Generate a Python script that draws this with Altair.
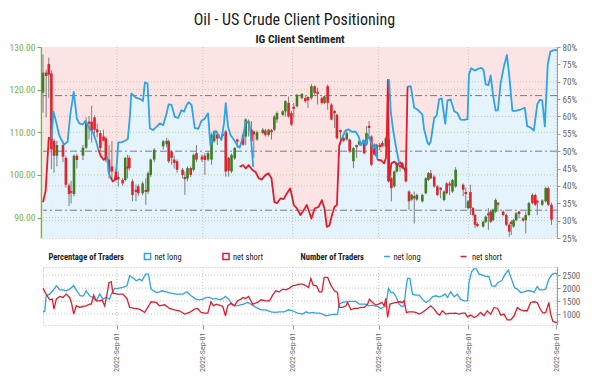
import altair as alt
import pandas as pd

FONT = "Liberation Sans Narrow, Roboto Condensed, Roboto, sans-serif"
PINK = "#fde4e4"
LIGHT_BLUE = "#e4f3fc"
BLUE = "#2ea3e6"
RED = "#e11d2b"
UP = "#3f7d20"
DOWN = "#e0232d"
WICK = "#7d7d7d"
GREEN_AXIS = "#79ad45"
GRAY_TXT = "#666666"

W, H_TOP, H_BOT = 514, 191, 58
X_DOMAIN = [0, 177.5]
PRICE_DOMAIN = [85.2, 130]
PCT_DOMAIN = [25, 80]
COUNT_DOMAIN = [580, 2810]

# ---- x axis ticks (day number within the period) ----
tick_days = [25.5, 55.2, 86.2, 115.9, 146.9, 177.2]
tick_labels = ["2022-Sep-01"] * 6

# ---- candles ----
candle_day = [0.0, 1.1, 2.0, 2.9, 3.8, 4.8, 6.9, 7.9, 9.0, 9.7,
              10.7, 11.7, 13.8, 14.9, 15.9, 16.8, 17.8, 18.7, 19.8, 20.9,
              21.7, 22.8, 23.8, 25.2, 26.0, 27.5, 28.4, 29.2, 29.8, 30.9,
              32.1, 32.9, 34.4, 35.5, 36.3, 37.2, 38.4, 41.5, 42.7, 43.4,
              44.4, 45.3, 46.3, 48.2, 49.0, 49.9, 51.0, 52.0, 53.0, 54.9,
              55.9, 57.0, 58.2, 59.1, 60.2, 62.0, 63.1, 64.1, 65.1, 66.2,
              67.1, 69.1, 70.0, 71.0, 72.0, 72.8, 73.9, 75.9, 76.8, 77.9,
              78.9, 79.9, 80.8, 82.8, 83.7, 84.8, 85.8, 86.6, 87.7, 89.4,
              90.6, 91.5, 92.7, 93.8, 94.8, 96.3, 97.2, 98.3, 99.6, 100.7,
              101.5, 102.7, 103.8, 104.9, 105.9, 107.2, 108.3, 109.2, 110.9, 111.7,
              112.6, 113.4, 114.4, 115.2, 116.3, 117.2, 118.4, 119.3, 120.3, 121.3,
              122.2, 123.3, 124.1, 125.3, 126.4, 127.3, 128.2, 129.1, 131.0, 132.2,
              133.1, 133.9, 135.1, 136.2, 137.3, 138.5, 139.4, 140.4, 141.4, 142.5,
              145.1, 146.0, 146.8, 147.6, 148.5, 149.2, 150.0, 152.0, 152.9, 153.8,
              154.6, 155.4, 156.3, 157.1, 158.9, 160.0, 161.0, 161.7, 162.5, 163.4,
              164.4, 165.8, 166.7, 167.8, 169.0, 170.0, 170.7, 172.4, 173.6, 174.5,
              175.6]
candle_open = [119.3, 124.0, 126.0, 123.8, 108.0, 104.5, 107.0, 104.0, 97.5, 96.2,
               95.5, 104.5, 104.5, 106.4, 112.5, 112.5, 113.5, 110.7, 109.8, 109.0,
               108.6, 103.6, 102.0, 100.8, 99.5, 98.8, 98.8, 102.0, 104.0, 98.5,
               96.5, 97.3, 95.7, 96.5, 96.1, 100.0, 103.6, 106.7, 107.2, 107.9,
               105.5, 103.6, 103.2, 101.2, 99.5, 99.2, 101.6, 101.2, 105.1, 104.3,
               104.5, 103.6, 103.6, 107.9, 109.5, 109.6, 110.2, 104.0, 100.8, 103.9,
               108.3, 109.4, 109.0, 112.5, 110.6, 110.2, 108.3, 109.8, 110.4, 109.4,
               110.5, 110.6, 113.0, 114.1, 114.9, 116.9, 114.5, 116.0, 116.1, 118.0,
               118.0, 118.3, 118.0, 120.8, 119.5, 118.0, 116.9, 120.8, 116.5, 115.0,
               114.1, 110.5, 108.7, 108.3, 108.3, 103.2, 107.0, 107.1, 107.9, 107.1,
               111.5, 109.0, 107.1, 104.3, 107.1, 107.5, 106.7, 108.3, 99.2, 97.3,
               100.8, 102.3, 102.8, 101.6, 96.1, 94.2, 95.0, 94.2, 93.8, 95.7,
               98.8, 100.4, 99.6, 97.3, 97.0, 94.1, 98.0, 98.0, 96.1, 97.3,
               97.7, 96.0, 92.2, 96.0, 92.2, 90.6, 88.5, 87.9, 89.0, 91.0,
               91.4, 89.4, 91.4, 93.5, 91.4, 90.6, 88.3, 89.0, 87.9, 89.4,
               91.4, 89.8, 89.4, 90.6, 95.3, 95.3, 94.0, 93.0, 93.8, 96.9,
               93.0]
candle_high = [128.2, 124.7, 127.5, 124.5, 108.5, 108.0, 107.5, 104.5, 98.0, 98.6,
               104.8, 105.0, 107.0, 113.5, 113.8, 116.2, 114.0, 112.0, 110.5, 110.6,
               109.0, 107.0, 107.9, 101.5, 100.8, 99.2, 104.2, 104.7, 104.5, 99.0,
               97.7, 97.8, 98.5, 99.2, 100.8, 103.8, 106.3, 108.2, 108.7, 108.3,
               105.8, 104.5, 103.6, 101.6, 100.8, 102.0, 102.0, 105.0, 107.0, 104.8,
               105.1, 105.5, 109.8, 110.5, 110.2, 110.0, 110.6, 104.2, 105.0, 106.5,
               108.5, 109.8, 113.3, 113.0, 112.6, 110.4, 110.4, 111.0, 110.8, 110.8,
               110.8, 114.0, 114.9, 115.2, 117.5, 118.4, 115.0, 116.9, 119.0, 119.2,
               118.5, 118.4, 121.3, 121.0, 120.4, 118.3, 118.6, 121.2, 116.8, 115.2,
               114.3, 110.6, 109.0, 110.6, 108.5, 106.5, 107.1, 108.2, 108.2, 111.4,
               112.6, 109.3, 107.4, 107.3, 107.5, 108.0, 109.0, 108.6, 99.5, 101.0,
               103.0, 102.4, 103.0, 101.8, 96.4, 95.6, 96.1, 95.6, 95.6, 99.5,
               100.7, 101.2, 99.9, 97.6, 97.1, 96.4, 98.3, 98.5, 99.1, 101.8,
               98.0, 97.0, 94.1, 97.7, 92.5, 90.9, 88.8, 89.3, 90.5, 92.2,
               91.7, 92.1, 94.5, 93.6, 91.7, 90.9, 88.6, 89.4, 89.7, 91.3,
               91.6, 90.1, 91.4, 93.7, 95.7, 95.6, 94.0, 94.3, 97.2, 97.3,
               93.5]
candle_low = [114.6, 113.5, 118.0, 101.4, 100.5, 102.0, 103.0, 97.0, 92.7, 93.3,
              95.0, 101.5, 103.5, 106.0, 108.3, 107.6, 109.5, 108.8, 105.5, 107.9,
              103.0, 99.2, 99.0, 98.5, 97.3, 97.5, 98.5, 99.2, 101.0, 93.8,
              93.8, 95.0, 95.2, 93.0, 95.5, 99.5, 103.0, 106.0, 106.5, 102.8,
              102.4, 101.5, 100.5, 99.2, 95.3, 98.5, 99.5, 100.8, 103.0, 103.0,
              100.0, 103.2, 102.4, 107.5, 107.0, 108.8, 99.6, 99.6, 100.4, 103.5,
              106.3, 106.8, 107.0, 109.0, 106.3, 104.0, 108.0, 109.5, 109.0, 109.0,
              108.3, 110.3, 112.2, 113.8, 113.7, 113.4, 111.5, 113.4, 115.8, 117.7,
              116.9, 115.7, 117.7, 118.8, 116.5, 116.5, 116.6, 115.3, 112.8, 111.0,
              108.3, 107.0, 107.7, 108.0, 105.2, 101.6, 104.0, 106.8, 104.8, 106.8,
              109.4, 102.0, 104.5, 104.0, 105.8, 106.5, 106.4, 98.2, 93.8, 97.0,
              100.5, 100.8, 101.3, 98.2, 91.8, 93.9, 88.6, 93.9, 93.5, 95.4,
              98.5, 99.0, 97.0, 95.0, 94.5, 93.8, 95.4, 95.3, 95.8, 97.0,
              95.0, 92.2, 91.9, 90.6, 90.3, 87.5, 87.7, 87.6, 88.7, 87.1,
              88.7, 89.1, 91.0, 91.4, 90.3, 88.0, 85.5, 85.9, 87.6, 89.1,
              89.8, 89.0, 86.3, 90.3, 93.1, 92.7, 90.6, 92.7, 93.5, 92.7,
              88.3]
candle_close = [124.0, 123.2, 123.5, 106.0, 104.5, 107.0, 104.3, 97.7, 95.5, 95.8,
                104.5, 103.5, 106.4, 112.3, 112.0, 110.4, 110.6, 110.0, 106.3, 108.0,
                103.6, 100.5, 100.8, 98.8, 99.0, 98.0, 104.0, 101.5, 101.6, 95.3,
                96.0, 95.7, 98.0, 96.0, 100.4, 103.6, 105.9, 107.9, 108.0, 103.2,
                104.0, 102.8, 101.2, 100.0, 99.0, 101.6, 100.0, 104.7, 103.6, 103.6,
                103.5, 105.1, 109.4, 110.2, 108.5, 109.1, 100.8, 101.0, 104.7, 106.3,
                107.8, 107.1, 113.0, 112.0, 107.9, 109.5, 110.0, 110.6, 109.4, 110.6,
                110.0, 113.7, 114.5, 114.9, 117.3, 113.7, 111.8, 115.5, 118.8, 119.0,
                117.3, 117.5, 120.8, 119.2, 119.0, 116.9, 118.4, 116.9, 113.0, 114.5,
                108.6, 110.0, 108.0, 109.8, 105.5, 106.3, 106.5, 107.9, 105.1, 109.8,
                111.0, 102.4, 104.8, 107.1, 106.5, 106.7, 108.6, 98.5, 96.9, 100.8,
                102.8, 101.8, 101.6, 98.5, 93.8, 95.3, 94.5, 95.3, 95.3, 99.2,
                100.4, 99.2, 97.3, 95.3, 96.5, 96.1, 95.7, 97.5, 98.8, 101.2,
                96.5, 95.5, 93.8, 92.2, 90.6, 88.3, 88.0, 89.0, 90.2, 90.5,
                89.0, 91.8, 94.1, 93.0, 90.6, 88.3, 86.7, 88.5, 89.4, 91.0,
                90.8, 89.3, 90.6, 93.4, 93.4, 93.0, 93.5, 94.0, 96.9, 93.0,
                89.5]

# ---- IG client sentiment (% of traders net long), drawn in coloured runs ----
sentiment_segments = [
    ("short", [0.0, 0.9, 2.0, 2.9], [35.3, 38.5, 53.9, 53.4]),
    ("long", [2.9, 3.6, 4.5, 5.6, 6.4, 7.3, 8.5, 9.4, 10.6, 11.7, 12.5, 13.7, 14.6, 15.4, 16.3, 17.2, 18.3, 19.1],
             [53.4, 61.4, 58.5, 54.6, 53.2, 51.9, 52.7, 60.4, 67.1, 59.4, 58.0, 57.7, 58.7, 57.5, 56.1, 55.5, 53.0, 50.5]),
    ("short", [19.1, 20.0, 21.0, 22.1], [50.5, 48.5, 47.5, 48.5]),
    ("long", [22.1, 22.8, 23.3], [48.5, 43.5, 42.5]),
    ("short", [23.3, 24.1, 24.8, 25.3], [42.5, 41.3, 41.8, 44.0]),
    ("long", [25.3, 26.0, 27.2, 28.3, 29.3, 30.0, 30.5, 32.1, 33.8, 34.5, 35.2, 36.1, 36.9, 38.0, 39.2,
              40.3, 41.5, 42.7, 43.4, 44.4, 45.5, 46.7, 47.8, 48.7, 49.6, 50.3, 51.3, 52.4, 53.6, 54.7,
              55.9, 57.0, 57.8, 58.7, 59.7, 60.7, 61.6, 62.5, 63.1, 63.9, 64.8, 66.0, 67.1, 67.9, 69.0,
              70.0, 71.2, 71.7, 72.6],
             [44.0, 52.5, 52.6, 53.0, 53.5, 60.0, 66.6, 65.4, 64.9, 64.4, 69.8, 69.5, 56.6, 56.1, 57.0,
              58.0, 57.5, 60.9, 63.5, 63.3, 59.9, 59.6, 61.8, 61.4, 63.3, 64.1, 63.3, 56.7, 56.4, 58.7,
              59.4, 60.9, 51.7, 54.6, 55.8, 54.6, 53.2, 58.0, 63.8, 57.0, 54.6, 53.2, 51.7, 51.0, 54.0,
              58.5, 58.5, 55.0, 45.5]),
    ("short", [67.9, 69.1, 70.0, 71.0, 72.4, 73.4, 74.5, 75.5, 76.8, 77.9, 78.9, 79.9, 80.8, 82.0, 83.1,
               84.2, 85.4, 86.6, 87.7, 88.9, 90.0, 91.1, 92.7, 93.8, 95.2, 96.3, 97.2, 98.0, 98.9, 99.8,
               100.7, 101.5, 102.3, 103.2],
              [45.5, 46.0, 45.0, 46.0, 44.5, 44.0, 42.2, 41.8, 43.1, 43.6, 42.2, 35.4, 35.0, 36.4, 36.2,
               37.8, 39.3, 34.5, 33.5, 31.6, 33.0, 34.5, 30.6, 33.5, 34.0, 35.9, 33.5, 28.2, 28.7, 31.6,
               34.0, 34.5, 51.7, 53.7]),
    ("long", [103.2, 104.5, 105.5, 106.6, 108.0, 109.0, 109.8, 110.6, 111.5, 112.4, 113.2, 114.0, 114.9, 115.5],
             [53.7, 56.0, 56.3, 55.6, 55.6, 54.2, 51.7, 53.2, 51.7, 54.6, 52.7, 50.8, 51.7, 47.5]),
    ("short", [115.5, 116.7, 117.8, 118.4, 118.7, 119.1, 119.6, 120.3, 121.4, 122.4, 123.4, 124.7, 125.3, 125.9],
              [47.5, 47.4, 46.5, 47.9, 53.2, 70.5, 41.5, 46.5, 47.0, 46.0, 46.8, 45.0, 44.0, 68.6]),
    ("long", [119.1, 119.5, 120.1, 120.9, 121.8, 123.0], [70.5, 70.5, 61.4, 56.1, 51.7, 46.5]),
    ("long", [125.9, 127.0, 128.2, 129.3, 130.4, 131.0, 131.6, 132.8, 133.3, 133.9,
              135.1, 135.9, 136.8, 137.7, 138.9, 139.7, 140.8, 142.0, 143.1, 144.2,
              145.4, 146.6, 147.1, 147.9, 149.1, 150.2, 151.4, 152.1, 152.9, 153.8,
              154.6, 155.4, 156.3, 157.1, 158.0, 159.2, 160.2, 161.1, 162.1, 163.2,
              164.9, 166.4, 167.2, 168.4, 169.5, 170.7, 171.6, 172.4, 173.3, 174.3,
              175.2, 176.4, 177.5],
             [68.6, 68.7, 62.5, 62.0, 61.1, 60.6, 56.3, 52.4, 51.9, 52.8,
              59.6, 60.1, 64.9, 65.2, 57.9, 64.6, 64.9, 61.5, 61.0, 59.1,
              59.0, 59.2, 72.1, 73.9, 73.2, 73.7, 74.0, 73.5, 69.2, 69.0,
              71.8, 66.2, 61.7, 61.8, 69.4, 74.5, 77.7, 71.0, 61.6, 61.6,
              62.0, 62.5, 57.2, 56.8, 55.9, 63.5, 64.8, 64.6, 57.1, 74.9,
              78.7, 79.1, 79.1]),
]

# ---- number of traders ----
long_day = [0.0, 0.6, 1.1, 2.3, 3.4, 4.6, 5.8, 6.9, 8.0, 9.2,
            10.6, 11.7, 12.9, 14.0, 14.9, 16.1, 17.2, 18.4, 19.6, 20.7,
            21.8, 23.0, 23.6, 24.7, 25.9, 27.6, 29.0, 29.9, 31.3, 32.2,
            33.3, 34.2, 35.4, 36.4, 37.3, 39.1, 40.2, 41.1, 42.5, 44.2,
            46.0, 48.3, 49.7, 51.1, 52.9, 54.0, 55.2, 56.6, 57.5, 58.6,
            59.8, 60.9, 62.1, 63.0, 64.1, 65.5, 66.7, 67.8, 69.2, 70.7,
            71.8, 73.6, 75.3, 77.0, 78.7, 80.2, 81.6, 83.3, 84.8, 86.2,
            87.9, 89.7, 90.8, 92.0, 93.1, 94.2, 95.4, 96.6, 97.7, 98.9,
            100.0, 101.1, 101.7, 102.3, 103.4, 104.6, 105.8, 106.9, 108.0, 109.2,
            110.3, 111.5, 112.6, 113.8, 114.4, 115.5, 116.7, 117.8, 118.4, 119.3,
            120.1, 120.9, 121.8, 123.0, 123.9, 124.7, 125.3, 125.9, 126.7, 127.6,
            128.7, 129.9, 131.0, 132.2, 133.3, 134.5, 135.6, 136.8, 137.9, 138.9,
            139.7, 140.8, 142.0, 143.1, 144.2, 145.4, 146.6, 147.1, 148.0, 148.9,
            149.7, 150.6, 151.7, 152.9, 154.0, 154.9, 156.1, 157.2, 158.4, 159.6,
            160.7, 161.8, 162.8, 163.8, 164.9, 166.1, 167.2, 168.4, 169.6, 170.7,
            171.5, 172.7, 173.6, 174.7, 175.9, 177.0, 177.5]
long_count = [1088, 1100, 1703, 1767, 1896, 2088, 1934, 1934, 1896, 1960,
              2088, 1896, 1703, 1703, 1896, 1703, 1639, 1511, 1767, 1575,
              1639, 1575, 1767, 1986, 1986, 2024, 2088, 2473, 2370, 2280,
              2344, 2280, 2537, 2537, 1960, 1832, 1857, 1896, 1857, 1806,
              1767, 1767, 1857, 1703, 1575, 1549, 1575, 1639, 1639, 1575,
              1601, 1549, 1601, 1678, 1575, 1344, 1319, 1344, 1383, 1447,
              1383, 1255, 1165, 1165, 1088, 1062, 1088, 1088, 1165, 1127,
              1037, 998, 1088, 1037, 1062, 1037, 1037, 998, 934, 960,
              985, 985, 998, 1383, 1447, 1473, 1486, 1486, 1486, 1383,
              1383, 1383, 1319, 1344, 1319, 1293, 1216, 1280, 1319, 1986,
              1832, 1832, 1703, 1383, 1293, 1319, 1960, 2370, 2370, 1767,
              1729, 1729, 1575, 1447, 1511, 1665, 1703, 1665, 1703, 1767,
              1639, 1857, 1665, 1767, 1575, 1511, 1511, 2216, 2626, 2755,
              2729, 2537, 2498, 2447, 2447, 2088, 2062, 2216, 2280, 2537,
              2690, 2344, 2024, 1960, 1832, 1857, 1896, 1896, 1832, 2062,
              1934, 1934, 1960, 2344, 2537, 2575, 2537]
short_day = [0.0, 1.1, 2.3, 3.2, 3.8, 4.6, 5.8, 6.9, 8.0, 9.2,
             9.8, 10.6, 11.5, 12.7, 13.8, 14.9, 16.1, 16.7, 17.5, 18.4,
             19.6, 20.4, 21.3, 22.1, 22.8, 23.6, 24.1, 25.9, 27.6, 29.0,
             29.9, 31.6, 33.3, 35.1, 36.2, 37.3, 39.1, 40.2, 42.0, 43.7,
             45.4, 47.1, 48.9, 50.6, 52.3, 53.4, 54.6, 55.8, 56.9, 58.0,
             58.9, 59.8, 60.9, 62.1, 63.0, 63.8, 64.9, 66.1, 67.2, 68.4,
             69.0, 69.9, 71.0, 72.4, 74.1, 75.3, 77.0, 78.2, 79.3, 80.4,
             81.6, 82.8, 83.9, 85.1, 86.2, 87.3, 88.5, 89.7, 90.8, 91.7,
             92.5, 93.3, 94.5, 95.4, 96.3, 97.1, 98.3, 99.4, 100.6, 101.7,
             102.3, 103.4, 104.6, 105.2, 106.3, 107.5, 108.6, 109.8, 111.0, 112.1,
             112.7, 113.8, 114.9, 115.9, 117.0, 117.8, 118.4, 119.0, 119.8, 120.9,
             122.1, 123.2, 124.1, 124.7, 125.5, 126.4, 127.8, 128.7, 129.9, 131.0,
             132.8, 133.9, 135.1, 136.2, 137.0, 137.9, 139.1, 140.2, 141.4, 142.5,
             143.7, 144.8, 145.8, 146.6, 147.7, 148.9, 150.0, 151.1, 152.3, 153.4,
             154.6, 155.8, 157.0, 158.1, 159.2, 160.3, 161.5, 162.7, 163.8, 164.9,
             166.1, 167.2, 168.4, 169.6, 170.7, 171.8, 172.7, 173.6, 174.7, 175.3,
             176.1, 177.0, 177.5]
short_count = [1986, 1767, 1549, 1575, 1190, 1575, 1678, 1639, 1767, 1639,
               1447, 998, 1319, 1255, 1293, 1319, 1383, 1383, 1729, 1511,
               1511, 1549, 1319, 1767, 2216, 2242, 1806, 1767, 1767, 1601,
               1255, 1216, 1190, 1062, 1255, 1473, 1447, 1319, 1357, 1216,
               1165, 1127, 998, 1062, 1190, 1216, 1062, 1037, 1037, 1473,
               1319, 1383, 1344, 1293, 934, 1319, 1421, 1319, 1511, 1575,
               1639, 1601, 1678, 1383, 1447, 1549, 1511, 1511, 1729, 1896,
               1857, 1960, 1934, 1999, 2088, 2114, 2152, 2152, 2088, 2024,
               2370, 2114, 2088, 1857, 1857, 2409, 2409, 2114, 1896, 1832,
               1255, 1255, 1319, 1447, 1165, 1216, 1216, 1255, 1255, 1383,
               1575, 1447, 1344, 1383, 1447, 1319, 1601, 870, 1383, 1421,
               1447, 1473, 1447, 1511, 1062, 1088, 1088, 1062, 998, 1062,
               1216, 1319, 1190, 1024, 960, 1127, 998, 1024, 1024, 1037,
               998, 1037, 1037, 896, 960, 870, 934, 1062, 934, 1127,
               998, 1255, 1216, 960, 998, 780, 780, 934, 1255, 1165,
               1127, 1127, 1447, 1473, 1447, 1165, 1037, 1062, 1447, 998,
               716, 678, 678]

price_ticks = [90, 100, 110, 120, 130]
price_grid_values = [90, 100, 110, 120]
pct_ticks = [25, 30, 35, 40, 45, 50, 55, 60, 65, 70, 75, 80]
pct_grid_values = [30, 40, 60, 70]
pct_ref_values = [33, 50, 66]
count_ticks = [1000, 1500, 2000, 2500]

# ---------------- data frames ----------------
candles = pd.DataFrame({"day": candle_day, "open": candle_open, "high": candle_high,
                        "low": candle_low, "close": candle_close})
rows = []
for s, (side, days, pcts) in enumerate(sentiment_segments):
    for d, p in zip(days, pcts):
        rows.append({"seg": s, "side": side, "day": d, "pct": p})
sent = pd.DataFrame(rows)
traders_long = pd.DataFrame({"day": long_day, "count": long_count})
traders_short = pd.DataFrame({"day": short_day, "count": short_count})
one = pd.DataFrame({"v": [0]})
ticks_df = pd.DataFrame({"day": tick_days})

# ---------------- scales & axes ----------------
xs = alt.Scale(domain=X_DOMAIN, nice=False, zero=False)
price_s = alt.Scale(domain=PRICE_DOMAIN, nice=False, zero=False)
pct_s = alt.Scale(domain=PCT_DOMAIN, nice=False, zero=False)
count_s = alt.Scale(domain=COUNT_DOMAIN, nice=False, zero=False)

price_axis = alt.Axis(orient="left", values=price_ticks, format=".2f", title=None, grid=False,
                      labelColor=GREEN_AXIS, labelFontSize=9.5, tickColor=GREEN_AXIS,
                      domainColor=GREEN_AXIS, domainWidth=1.5, offset=2, tickSize=4,
                      labelPadding=2, minExtent=30, maxExtent=30)
pct_axis = alt.Axis(orient="right", values=pct_ticks, labelExpr="datum.value + '%'", title=None,
                    grid=False, labelColor=GRAY_TXT, labelFontSize=9, tickColor="#999",
                    domainColor="#999", tickSize=3, labelPadding=2)
count_axis = alt.Axis(orient="right", values=count_ticks, format="d", title=None, grid=False,
                      labelColor=GRAY_TXT, labelFontSize=9, tickColor="#999",
                      domainColor="#999", tickSize=3, labelPadding=2)
label_js = "[" + ",".join("'%s'" % t for t in tick_labels) + "]"
days_js = "[" + ",".join(str(d) for d in tick_days) + "]"
x_axis_bottom = alt.Axis(values=tick_days, labelExpr=f"{label_js}[indexof({days_js}, datum.value)]",
                         labelAngle=-90, labelColor=GRAY_TXT, labelFontSize=8, tickColor="#999",
                         tickSize=4, domain=False, grid=False, title=None, labelPadding=3)

def XT(field):
    return alt.X(field, type="quantitative", scale=xs, axis=None)

def XB(field):
    return alt.X(field, type="quantitative", scale=xs, axis=x_axis_bottom)

# ---------------- top panel ----------------
bg = alt.Chart(one).mark_rect(color=PINK).encode(
    x=alt.value(0), x2=alt.value(W), y=alt.value(0), y2=alt.value(H_TOP))

area = alt.Chart(sent).mark_area(color=LIGHT_BLUE, opacity=1).encode(
    x=XT("day"), y=alt.Y("pct:Q", scale=pct_s, axis=None), y2=alt.datum(25), detail="seg:N")
vgrid = alt.Chart(ticks_df).mark_rule(color="#c4c4c4", strokeDash=[1, 2]).encode(x=XT("day"))
pgrid = alt.Chart(pd.DataFrame({"pct": pct_grid_values})).mark_rule(
    color="#c4c4c4", strokeDash=[1, 2]).encode(y=alt.Y("pct:Q", scale=pct_s, axis=None))
pref = alt.Chart(pd.DataFrame({"pct": pct_ref_values})).mark_rule(
    color="#7a7a7a", strokeDash=[7, 3, 2, 3], strokeWidth=1).encode(
    y=alt.Y("pct:Q", scale=pct_s, axis=None))
pct_under = alt.layer(area, vgrid, pgrid, pref)

price_grid = alt.Chart(pd.DataFrame({"price": price_grid_values})).mark_rule(
    color="#b3d393", strokeDash=[1, 2]).encode(y=alt.Y("price:Q", scale=price_s, axis=price_axis))
wicks = alt.Chart(candles).mark_rule(color=WICK, strokeWidth=1).encode(
    x=XT("day"), y=alt.Y("low:Q", scale=price_s, axis=price_axis), y2="high:Q")
bodies = alt.Chart(candles).mark_rule(strokeWidth=2.6).encode(
    x=XT("day"), y=alt.Y("open:Q", scale=price_s, axis=price_axis), y2="close:Q",
    color=alt.condition("datum.close >= datum.open", alt.value(UP), alt.value(DOWN)))
price_group = alt.layer(price_grid, wicks, bodies)

lines = alt.Chart(sent).mark_line(strokeWidth=1.8, strokeJoin="round").encode(
    x=XT("day"), y=alt.Y("pct:Q", scale=pct_s, axis=pct_axis),
    color=alt.Color("side:N", scale=alt.Scale(domain=["long", "short"], range=[BLUE, RED]), legend=None),
    detail="seg:N")

top = alt.layer(bg, pct_under, price_group, lines).resolve_scale(y="independent").properties(
    width=W, height=H_TOP,
    title=alt.TitleParams("IG Client Sentiment", fontSize=11.5, fontWeight="bold", color="#222",
                          offset=-3.5, anchor="middle", font=FONT))

# ---------------- bottom panel ----------------
b_vgrid = alt.Chart(ticks_df).mark_rule(color="#c4c4c4", strokeDash=[1, 2]).encode(x=XB("day"))
b_hgrid = alt.Chart(pd.DataFrame({"count": count_ticks})).mark_rule(
    color="#c4c4c4", strokeDash=[1, 2]).encode(y=alt.Y("count:Q", scale=count_s, axis=count_axis))
l_long = alt.Chart(traders_long).mark_line(color=BLUE, strokeWidth=1.3).encode(
    x=XB("day"), y=alt.Y("count:Q", scale=count_s, axis=count_axis))
l_short = alt.Chart(traders_short).mark_line(color=RED, strokeWidth=1.3).encode(
    x=XB("day"), y=alt.Y("count:Q", scale=count_s, axis=count_axis))

LY = -10.5
def label(text, x, bold=False):
    return alt.Chart(one).mark_text(text=text, align="left", baseline="middle", fontSize=8.5,
                                    fontWeight="bold" if bold else "normal", color="#222",
                                    font=FONT).encode(x=alt.value(x), y=alt.value(LY))

def square(x, color):
    return alt.Chart(one).mark_square(filled=False, stroke=color, strokeWidth=1.5, size=38,
                                      opacity=1).encode(x=alt.value(x), y=alt.value(LY))

def swatch(x, color):
    return alt.Chart(one).mark_rule(color=color, strokeWidth=1.5).encode(
        x=alt.value(x), x2=alt.value(x + 6), y=alt.value(LY))

legend = [label("Percentage of Traders", 5.5, True), square(104.5, BLUE), label("net long", 111.5),
          square(183, RED), label("net short", 190),
          label("Number of Traders", 257.5, True), swatch(341, BLUE), label("net long", 350.5),
          swatch(417.5, RED), label("net short", 429)]

bottom = alt.layer(b_vgrid, b_hgrid, l_long, l_short, *legend).properties(width=W, height=H_BOT)

chart = alt.vconcat(top, bottom, spacing=29, bounds="flush").properties(
    padding={"left": 0, "top": 3, "right": 0, "bottom": 0},
    title=alt.TitleParams("Oil - US Crude Client Positioning", fontSize=16, fontWeight="normal",
                          color="#1a1a1a", anchor="middle", offset=6, font=FONT)
).configure(font=FONT).configure_view(stroke="#c0c0c0", strokeDash=[1, 2], strokeWidth=1)

chart.save("out.html", embed_options={"renderer": "svg", "actions": False})
